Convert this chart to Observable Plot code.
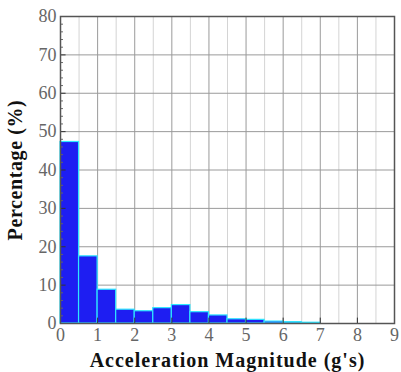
<!DOCTYPE html>
<html><head>
<meta charset="utf-8">
<script src="https://cdn.jsdelivr.net/npm/d3@7"></script>
<script src="https://cdn.jsdelivr.net/npm/@observablehq/plot@0.6"></script>
<style>
body{margin:0;background:#fff;}
#chart svg{display:block;}
#chart svg text{font-family:'Liberation Serif','DejaVu Serif',serif;}
</style>
</head><body><div id="chart"></div>
<script>
const binStart = [0, 0.5, 1, 1.5, 2, 2.5, 3, 3.5, 4, 4.5, 5, 5.5, 6, 6.5];
const binEnd   = [0.5, 1, 1.5, 2, 2.5, 3, 3.5, 4, 4.5, 5, 5.5, 6, 6.5, 7];
const percent  = [47.3, 17.5, 8.8, 3.6, 3.2, 4.0, 4.8, 2.95, 2.1, 1.1, 0.95, 0.5, 0.35, 0.2];
const xTicks = [0, 1, 2, 3, 4, 5, 6, 7, 8, 9];
const xMinor = [0.5, 1.5, 2.5, 3.5, 4.5, 5.5, 6.5, 7.5, 8.5];
const yTicks = [0, 10, 20, 30, 40, 50, 60, 70, 80];
const yMinor = [2, 4, 6, 8, 12, 14, 16, 18, 22, 24, 26, 28, 32, 34, 36, 38, 42, 44, 46, 48, 52, 54, 56, 58, 62, 64, 66, 68, 72, 74, 76, 78];

const bins = binStart.map((s, i) => ({x1: s, x2: binEnd[i], y: percent[i]}));

const chart = Plot.plot({
  width: 401,
  height: 372,
  marginLeft: 60,
  marginRight: 7,
  marginTop: 16,
  marginBottom: 49,
  style: {fontFamily: "'Liberation Serif', 'DejaVu Serif', serif", background: "#fff"},
  x: {domain: [0, 9]},
  y: {domain: [0, 80]},
  marks: [
    Plot.ruleX(xMinor, {x: d => d, stroke: "#d4d4d4", strokeWidth: 1}),
    Plot.ruleX(xTicks, {x: d => d, stroke: "#9a9a9a", strokeWidth: 1}),
    Plot.ruleY(yTicks, {y: d => d, stroke: "#9a9a9a", strokeWidth: 1}),
    Plot.rectY(bins, {x1: "x1", x2: "x2", y1: 0, y2: "y", fill: "#1e1ef2", stroke: "#2ee6ff", strokeWidth: 1.2}),
    Plot.ruleX(xTicks, {x: d => d, y1: 0, y2: 1.4, stroke: "#333", strokeWidth: 1}),
    Plot.ruleY(yTicks, {y: d => d, x1: 0, x2: 0.15, stroke: "#333", strokeWidth: 1}),
    Plot.ruleY(yMinor, {y: d => d, x1: 0, x2: 0.08, stroke: "#666", strokeWidth: 1}),
    Plot.frame({stroke: "#555", strokeWidth: 1.5}),
    Plot.axisX(xTicks, {tickSize: 0, tickPadding: 5, fontSize: 18, fill: "#666",
      label: "Acceleration Magnitude (g's)", labelAnchor: "center", labelOffset: 43, labelArrow: "none"}),
    Plot.axisY(yTicks, {tickSize: 0, tickPadding: 4, fontSize: 18, fill: "#666",
      label: "Percentage (%)", labelAnchor: "center", labelOffset: 53, labelArrow: "none"})
  ]
});

const svg = d3.select(chart);
svg.selectAll("text").style("font-family", "'Liberation Serif', 'DejaVu Serif', serif");
svg.selectAll("[aria-label='x-axis label'] text")
  .attr("fill", "#111").style("font-weight", "bold").style("font-size", "20px").style("letter-spacing", "1px");
svg.selectAll("[aria-label='y-axis label'] text")
  .attr("fill", "#111").style("font-weight", "bold").style("font-size", "20px").style("letter-spacing", "0.6px");
document.getElementById("chart").appendChild(chart);
</script>
</body></html>
